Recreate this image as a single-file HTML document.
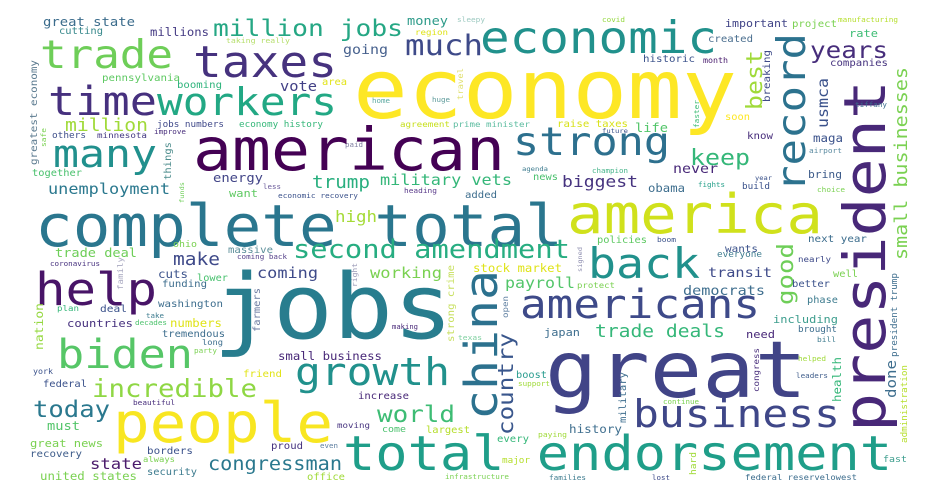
<!DOCTYPE html>
<html><head><meta charset="utf-8"><style>
html,body{margin:0;padding:0;background:#fff;}
svg{display:block;}
text{font-family:"DejaVu Sans Mono","Liberation Mono",monospace;}
</style></head><body>
<svg id="cloud" width="940" height="500" viewBox="0 0 940 500" xmlns="http://www.w3.org/2000/svg">
<rect x="0" y="0" width="940" height="500" fill="#ffffff"/>
</svg>
<script>
// [word, weight(font px), x, y, length, color, vertical]
const words = [
["great state",14,43,26,92,"#3b6c8c"],["cutting",10.4,59,34,44,"#38898c"],["million jobs",26,213,36,190,"#25a784"],
["money",13.6,407,25,41,"#2e9b8a"],["sleepy",8,457,22,28,"#9cc9c0"],["millions",12.3,150,36,59,"#443a83"],
["region",9,415,35,33,"#dfe318"],["trade",44,40,68,133,"#6ece58"],["taxes",48,193,77,144,"#46327e"],
["much",32,405,55,78,"#3e4a89"],["going",15,343,54,45,"#46608d"],["taking really",8.2,226,43,64,"#b5de6b"],
["time",45,48,115,109,"#46307e"],["workers",43,157,115,180,"#22a884"],["vote",15.4,280,91,37,"#424086"],
["pennsylvania",10.8,102,81,78,"#5ec962"],["booming",10.7,177,88,45,"#2fb47c"],["area",10.4,322,85,25,"#e2e418"],
["home",7.5,372,103,18,"#5aa8a0"],["huge",7.5,432,102,18,"#5c9a9a"],["travel",8.9,463,100,32,"#e0e070",1],
["greatest economy",10.9,37,165,105,"#5b7a8f",1],["million",19.7,65,131,83,"#a0da39"],["jobs numbers",9.3,157,127,67,"#3f4889"],
["economy history",9.3,239,127,84,"#35b779"],["agreement",9.2,400,127,50,"#c8e020"],["prime minister",9.1,453,127,77,"#5cbca0"],
["others",9.4,52,138,34,"#3e4f8a"],["minnesota",9.2,97,138,50,"#443983"],["improve",7.6,154,134,32,"#472d7b"],
["safe",7.9,46,147,19,"#7ad151",1],["paid",7.5,345,147,18,"#7f7fa0"],["many",43,53,167,104,"#21908d"],
["american",65,193,170,312,"#440154"],["things",10.5,171,180,38,"#4c8c8c",1],["together",10.4,32,176,50,"#49c16d"],
["energy",13.8,213,182,50,"#414487"],["less",7.5,263,189,18,"#6a5a9a"],["unemployment",17,48,194,122,"#2a788e"],
["trump",19.3,312,188,58,"#29af7f"],["military vets",17,380,185,132,"#35b779"],["want",12,229,197,29,"#5ec962"],
["funds",7,184,203,21,"#6ece58",1],["economic recovery",7.8,278,198,80,"#3b528b"],["heading",7.8,404,193,33,"#5a3a8a"],
["complete total",64,35,246,528,"#2a768e"],["high",17.4,335,222,42,"#a5db36"],["ohio",10,173,247,24,"#7ad151"],
["economic",49,480,53,237,"#21918c"],["economy",91,353,118,384,"#fde725"],["covid",7.6,602,22,23,"#95d840"],
["important",11.6,725,27,63,"#414487"],["project",10.7,792,27,45,"#7ad151"],["manufacturing",7.7,838,22,60,"#b5de2b"],
["created",10.7,708,42,45,"#4b6f8f"],["rate",12,849,37,29,"#3dbc74"],["years",26,810,58,78,"#472d7b"],
["historic",10.8,643,62,52,"#3b528b"],["month",8.3,703,63,25,"#481b6d"],["companies",10.7,830,66,58,"#46337f"],
["best",25,762,110,60,"#a0da39",1],["breaking",10.8,770,102,52,"#3e4a89",1],["record",44,805,192,159,"#2c728e",1],
["president",64,885,432,352,"#482878",1],["strong",43.5,513,155,157,"#2d708e"],["raise taxes",10.7,557,127,71,"#d8e219"],
["life",13.7,635,132,33,"#52c569"],["future",7.2,602,133,26,"#3b528b"],["soon",10.4,725,120,25,"#fde725"],
["faster",7.7,699,128,28,"#3dbc74",1],["usmca",16.6,828,128,50,"#3b528b",1],["small businesses",20,907,260,193,"#7ad151",1],
["tiffany",7.6,855,107,32,"#3b6c8c"],["know",10.8,747,139,26,"#472d7b"],["maga",12.5,813,142,30,"#3b528b"],
["airport",7.8,809,153,33,"#5a8aa0"],["keep",25,690,165,60,"#35b779"],["never",15,673,173,45,"#482878"],
["agenda",7.2,522,171,26,"#3e7c8f"],["champion",7.5,592,173,36,"#46b48a"],["news",10.4,533,180,25,"#4ac16d"],
["biggest",18,562,187,76,"#46337f"],["obama",12.3,648,192,37,"#3e6e8e"],["fights",7.5,698,187,27,"#26a08a"],
["year",7,755,180,17,"#3b528b"],["build",9.3,742,189,28,"#3b528b"],["bring",11.3,808,178,34,"#3e5c8a"],
["choice",7.8,817,192,28,"#7ad151"],["added",10.6,465,198,32,"#3e6e8e"],["america",60.7,567,233,256,"#d0e11c"],
["policies",10.4,597,243,50,"#5ec962"],["boom",7.9,657,242,19,"#3b528b"],["next year",10.9,808,242,59,"#3b6c8c"],
["wants",11,725,252,33,"#3b528b"],["second amendment",28.8,293,258,277,"#27ad81"],["signed",7,582,272,25,"#8f8fb0",1],
["trade deal",13.6,55,257,82,"#6ece58"],["massive",10.7,228,253,45,"#5d8f9a"],["coming back",7.5,237,259,50,"#55418a"],
["make",19.5,173,265,47,"#3e4989"],["coronavirus",7.5,50,266,50,"#46307e"],["family",9,123,290,33,"#a8a8c0",1],
["help",50.6,35,305,122,"#481467"],["cuts",12.5,158,278,30,"#3b528b"],["lower",10.3,197,281,31,"#48c16e"],
["coming",17,257,278,61,"#3e4a89"],["working",17,370,278,72,"#7ad151"],["funding",10.7,162,287,45,"#3e6e8e"],
["right",8,357,287,24,"#9c9cb8",1],["jobs",100,213,338,240,"#287d8e"],["strong crime",11,454,342,77,"#c8e060",1],
["texas",8,458,340,24,"#7fd0a0"],["washington",10.8,158,307,65,"#3e6e8e"],["plan",9.1,57,311,22,"#35b779"],
["deal",11.2,100,312,27,"#3b528b"],["nation",13,43,350,47,"#95d840",1],["farmers",10.4,260,332,44,"#6b7aa0",1],
["take",7.5,146,318,18,"#3e7c8f"],["decades",7.6,135,325,32,"#4cc26c"],["countries",12.2,67,327,66,"#46307e"],
["numbers",12.3,170,327,52,"#dfe318"],["making",7.3,392,329,26,"#482878"],["tremendous",10.5,162,337,63,"#3e6e8e"],
["long",8.7,202,345,21,"#3e6e8e"],["party",7.6,194,353,23,"#7ad151"],["biden",45,57,368,136,"#56c667"],
["small business",12.3,278,360,104,"#482878"],["york",8.3,33,374,20,"#3b528b"],["friend",10.8,243,377,39,"#e2e418"],
["growth",43,295,385,155,"#21918c"],["federal",10.4,43,387,44,"#3b528b"],["incredible",27.4,92,397,165,"#8fd744"],
["increase",10.6,358,399,51,"#482878"],["beautiful",7.7,133,405,42,"#472d7b"],["today",25.6,33,417,77,"#2a788e"],
["people",61,113,442,220,"#f8e621"],["world",26,377,422,78,"#3dbc74"],["must",13.7,47,430,33,"#52c569"],
["moving",9.1,337,428,33,"#46337f"],["come",10,382,432,24,"#4ac16d"],["largest",10.4,426,433,44,"#b5de2b"],
["total endorsement",53.6,343,470,549,"#1f9e89"],["great news",12.1,30,447,73,"#7ad151"],["proud",10.6,271,449,32,"#46337f"],
["even",7.5,320,448,18,"#5d7ea0"],["borders",11,147,454,46,"#3b528b"],["recovery",10.8,30,457,52,"#3e5c8a"],
["always",8.9,143,462,32,"#7ad151"],["state",17.2,90,469,52,"#4b1b6c"],["congressman",20.2,208,470,134,"#2a788e"],
["security",10.4,147,475,50,"#3e7c8f"],["united states",12.4,40,480,97,"#7ad151"],["office",10.5,307,480,38,"#a0da39"],
["infrastructure",7.6,445,479,64,"#7ad151"],["back",46.5,588,278,112,"#21918c"],["stock market",12.3,473,272,89,"#dfe318"],
["everyone",9.3,717,257,45,"#3e7c8f"],["nearly",9.1,798,262,33,"#3e4a89"],["well",10.4,833,277,25,"#7ad151"],
["good",25,793,305,62,"#6ece58",1],["transit",15.2,708,277,64,"#3e4a89"],["payroll",16.6,505,288,70,"#52c569"],
["protect",9,577,288,38,"#7ad151"],["better",10.5,792,287,38,"#3b528b"],["democrats",15.1,683,295,82,"#3e6e8e"],
["phase",10.3,807,303,31,"#3e7c8f"],["president trump",9.3,897,357,84,"#3e6e8e",1],["open",9,508,318,22,"#5d7ea0",1],
["americans",44.3,520,318,240,"#3e4a89"],["including",12,773,323,65,"#3e9e8e"],["country",24,513,435,102,"#39568c",1],
["china",50,497,420,150,"#2c718e",1],["trade deals",19.6,595,337,130,"#35b779"],["japan",12,544,336,36,"#3e6e8e"],
["need",12,746,338,29,"#482878"],["brought",9.3,798,332,39,"#3e6e8e"],["bill",7.9,817,342,19,"#3e7c8f"],
["great",87,545,397,262,"#414487"],["congress",9.1,759,392,44,"#472d7b",1],["helped",7.7,798,361,28,"#a0da39"],
["health",12.5,841,402,45,"#35b779",1],["done",16,896,398,38,"#3e6e8e",1],["boost",10.3,516,378,31,"#2a9d8f"],
["support",7.6,518,386,32,"#a0da39"],["military",10.6,626,423,51,"#3e6e8e",1],["leaders",7.6,796,378,32,"#3e5c8a"],
["administration",9.3,907,443,78,"#b5de2b",1],["continue",7.5,663,404,36,"#7ad151"],["business",43,633,427,207,"#3f4788"],
["history",12.6,569,433,53,"#3e6e8e"],["every",10.6,497,442,32,"#35b779"],["paying",8,538,437,29,"#a0da39"],
["major",9.3,502,463,28,"#b5de2b"],["hard",9.5,696,475,23,"#a0da39",1],["fast",10,883,462,24,"#3e9e8e"],
["families",7.7,549,480,37,"#3e7c8f"],["lost",7.5,652,480,18,"#3e4a89"],["federal reservelowest",8.9,745,480,112,"#3e6e8e"]
];
const svg = document.getElementById('cloud');
const NS = 'http://www.w3.org/2000/svg';
const scale = 0.9;
words.forEach(function(w){
  const t = document.createElementNS(NS,'text');
  
  
  t.setAttribute('x', w[2]);
  t.setAttribute('y', w[3]);
  t.setAttribute('font-size', (w[1]*scale).toFixed(1));
  t.setAttribute('fill', w[5]);
  t.setAttribute('textLength', w[4]);
  t.setAttribute('lengthAdjust', 'spacingAndGlyphs');
  if (w[6]) t.setAttribute('transform', 'rotate(-90 ' + w[2] + ' ' + w[3] + ')');
  t.textContent = w[0];
  svg.appendChild(t);
});
</script>
</body></html>
